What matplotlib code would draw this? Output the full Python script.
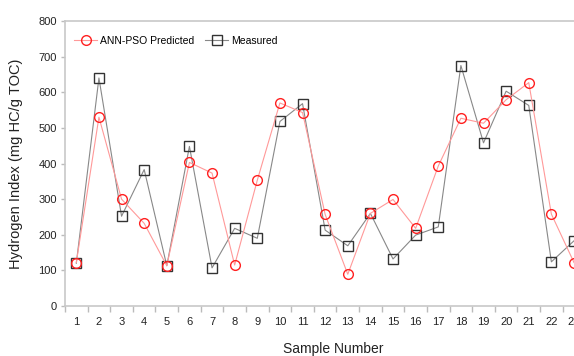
import numpy as np
import matplotlib.pyplot as plt

plt.rcParams['font.family'] = ['Liberation Sans', 'DejaVu Sans']

# Номера образцов и значения водородного индекса (мг УВ/г TOC)
samples = list(range(1, 24))
hi_predicted = [122, 530, 300, 232, 113, 403, 373, 115, 353, 570, 543, 257,
                89, 260, 299, 218, 393, 527, 513, 579, 627, 258, 122]
hi_measured = [120, 640, 252, 383, 113, 448, 107, 218, 190, 518, 568, 213,
               169, 260, 132, 199, 222, 675, 458, 603, 563, 124, 183]

fig = plt.figure(figsize=(5.74, 3.56), dpi=100)
ax = fig.add_axes([65 / 574, 50 / 356, 509 / 574, 285 / 356])

ax.plot(samples, hi_predicted, '-', color='#ff9999', linewidth=0.8,
        marker='o', markersize=7, markerfacecolor='none',
        markeredgecolor='#ff2020', markeredgewidth=1.0,
        label='ANN-PSO Predicted', zorder=3)
ax.plot(samples, hi_measured, '-', color='#888888', linewidth=0.8,
        marker='s', markersize=7, markerfacecolor='none',
        markeredgecolor='#333333', markeredgewidth=1.0,
        label='Measured', zorder=2)

ax.set_xlim(0.5, 22.95)
ax.set_ylim(0, 800)

# Засечки по оси X стоят между номерами, подписи - под номерами
ax.set_xticks(np.arange(0.5, 23.5, 1.0))
ax.set_xticklabels([])
ax.set_xticks(samples, minor=True)
ax.set_xticklabels([str(s) for s in samples], minor=True)
ax.tick_params(axis='x', which='major', direction='out', length=4,
               color='#bbbbbb', width=1)
ax.tick_params(axis='x', which='minor', length=0, labelsize=8,
               labelcolor='#222222', pad=8)

ax.set_yticks(np.arange(0, 801, 100))
ax.tick_params(axis='y', direction='out', length=3, color='#bbbbbb',
               width=1, labelsize=8, labelcolor='#222222', pad=3)

for side in ['left', 'bottom', 'top']:
    ax.spines[side].set_color('#c8c8c8')
    ax.spines[side].set_linewidth(1.2)
ax.spines['right'].set_visible(False)

ax.set_ylabel('Hydrogen Index (mg HC/g TOC)', fontsize=10.5, color='#222222')
ax.yaxis.set_label_coords(-0.082, 0.5)
ax.set_xlabel('Sample Number', fontsize=10, color='#222222')
ax.xaxis.set_label_coords((333 - 65) / 509, -0.125)

ax.legend(loc='upper left', ncol=2, frameon=False, fontsize=7.5,
          handlelength=2.2, handletextpad=0.3, columnspacing=1.0,
          bbox_to_anchor=(0.0, 0.98), borderaxespad=0.5)

fig.savefig('out.png', dpi=100)
